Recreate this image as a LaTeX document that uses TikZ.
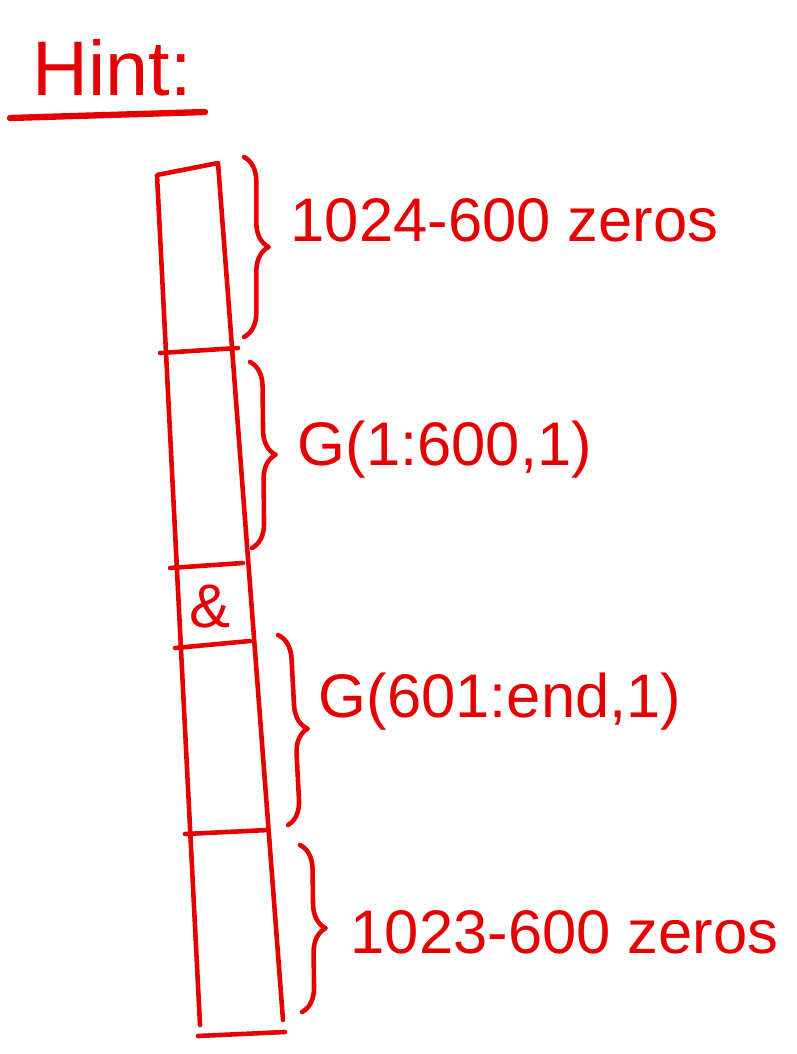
\documentclass[tikz,border=0pt]{standalone}
\usepackage{fontspec}
\setmainfont{Liberation Sans}
\usetikzlibrary{calc,positioning,decorations.pathreplacing}
\definecolor{pen}{RGB}{228,0,0}
\tikzstyle{ink} = [draw=pen, line width=1.3pt, line cap=round, line join=round]
\tikzstyle{curly} = [ink, decorate, decoration={brace, amplitude=7pt}]
\tikzstyle{note} = [text=pen, anchor=west, inner sep=0pt, font=\fontsize{17.5}{20}\selectfont]

\begin{document}
\begin{tikzpicture}[x=0.01cm, y=-0.01cm]
			\useasboundingbox (0,0) rectangle (796,1054);
			
			\node[note, anchor=base west, font=\fontsize{22}{26}\selectfont] (hint) at (32,95) {Hint:};
			\draw[ink, line width=1.8pt] (10,118) -- (205,112);
			
			%column
			\coordinate (tl) at (157,175);
			\coordinate (tr) at (218,163);
			\coordinate (bl) at (200,1025);
			\coordinate (br) at (283,1020);
			\draw[ink] (bl) -- (tl) -- (tr) -- (br);
			\draw[ink] (160,353) -- (238,348);
			\draw[ink] (170,568) -- (243,563);
			\draw[ink] (175,648) -- (250,641);
			\draw[ink] (185,834) -- (268,830);
			\draw[ink] (198,1036) -- (285,1032);
			\node[note, anchor=center] (cell) at (210,607) {\&};
			
			%braces
			\draw[curly] (244,157) -- (244,337);
			\draw[curly] (250,362) -- (252,548);
			\draw[curly] (278,635) -- (288,825);
			\draw[curly] (300,845) -- (302,1012);
			
			\node[note] (top) at (290,220) {1024-600 zeros};
			\node[note] (head) at (297,450) {G(1:600,1)};
			\node[note] (tail) at (318,702) {G(601:end,1)};
			\node[note] (bottom) at (350,932) {1023-600 zeros};
			
			%	
\end{tikzpicture}
\end{document}
